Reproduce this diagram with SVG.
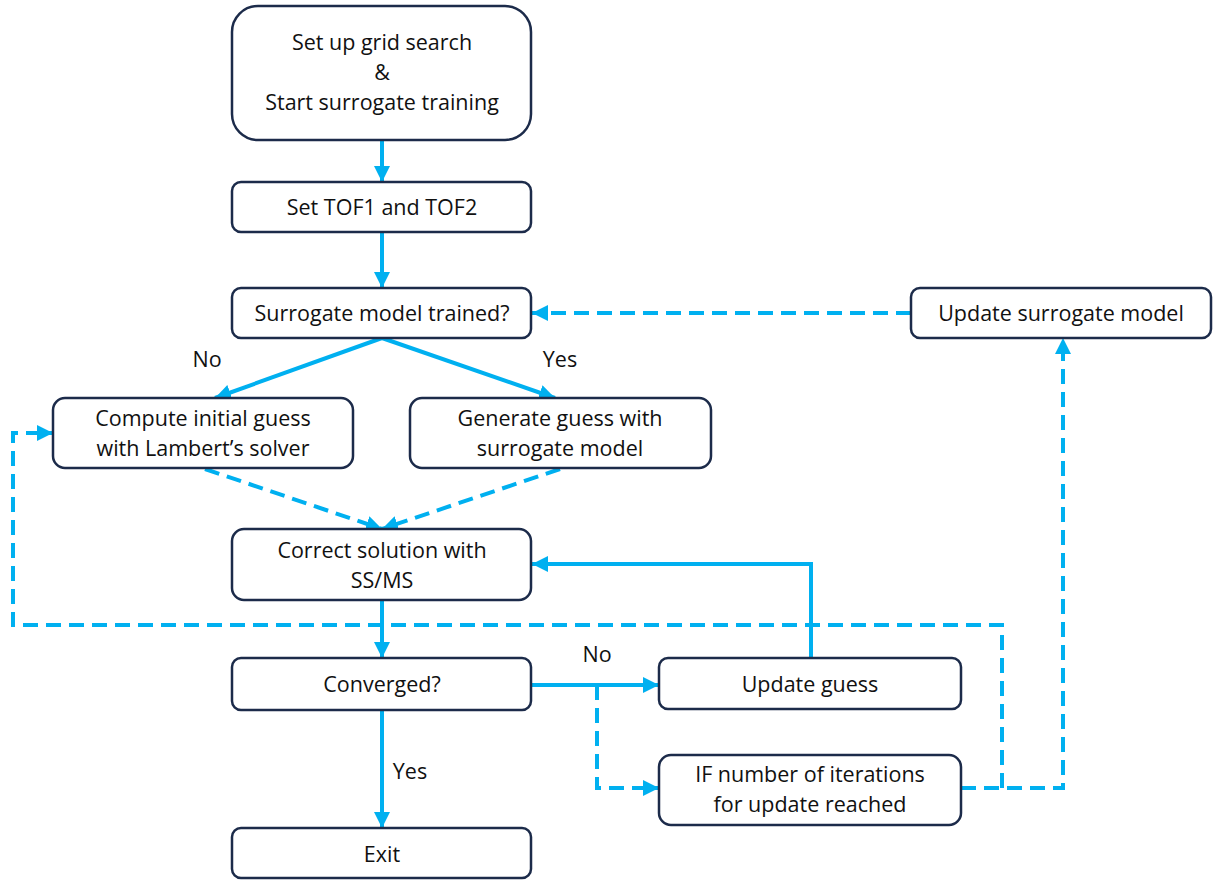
<svg xmlns="http://www.w3.org/2000/svg" width="1213" height="881" viewBox="0 0 1213 881">
  <style>
    .box { fill: #ffffff; stroke: #1c2b4a; stroke-width: 2.5; }
    .lbl { font-family: "Open Sans", "Noto Sans", sans-serif; font-size: 21.5px; fill: #111111; text-anchor: middle; }
    .flow { fill: none; stroke: #00b0f0; stroke-width: 4; }
    .dash { stroke-dasharray: 15 8; }
  </style>
  <defs>
    <marker id="arrow" viewBox="0 0 10 10" refX="10" refY="5" markerWidth="16" markerHeight="16" markerUnits="userSpaceOnUse" orient="auto">
      <path d="M0,0 L10,5 L0,10 Z" fill="#00b0f0"/>
    </marker>
  </defs>
  <rect width="1213" height="881" fill="#ffffff"/>

  <g id="connectors">
    <!-- main spine -->
    <path class="flow" marker-end="url(#arrow)" d="M382,140 V182"/>
    <path class="flow" marker-end="url(#arrow)" d="M382,232 V288"/>
    <path class="flow" marker-end="url(#arrow)" d="M382,338 L215,398"/>
    <path class="flow" marker-end="url(#arrow)" d="M382,338 L555,398"/>
    <path class="flow dash" marker-end="url(#arrow)" d="M205,469 L382,529"/>
    <path class="flow dash" marker-end="url(#arrow)" d="M560,469 L382,529"/>
    <path class="flow" marker-end="url(#arrow)" d="M382,600 V658"/>
    <path class="flow" marker-end="url(#arrow)" d="M382,710 V828"/>
    <!-- not converged -->
    <path class="flow" marker-end="url(#arrow)" d="M532,685 H659"/>
    <path class="flow" marker-end="url(#arrow)" d="M811,658 V564 H532"/>
    <path class="flow dash" marker-end="url(#arrow)" d="M597,685 V788 H659"/>
    <!-- iteration limit branches -->
    <path class="flow dash" marker-end="url(#arrow)" d="M961,788 H1063 V338"/>
    <path class="flow dash" marker-end="url(#arrow)" d="M1002,788 V625 H13 V433 H53"/>
    <path class="flow dash" marker-end="url(#arrow)" d="M911,313 H532"/>
    <!-- branch labels -->
    <text class="lbl" x="207" y="367">No</text>
    <text class="lbl" x="560" y="367">Yes</text>
    <text class="lbl" x="597" y="662">No</text>
    <text class="lbl" x="410" y="779">Yes</text>
  </g>

  <g id="setup">
    <rect class="box" x="232" y="6" width="299" height="134" rx="26"/>
    <text class="lbl" x="382" y="50">Set up grid search</text>
    <text class="lbl" x="382" y="80">&amp;</text>
    <text class="lbl" x="382" y="110">Start surrogate training</text>
  </g>
  <g id="set-tof">
    <rect class="box" x="232" y="182" width="299" height="50" rx="9"/>
    <text class="lbl" x="382" y="215">Set TOF1 and TOF2</text>
  </g>
  <g id="trained">
    <rect class="box" x="232" y="288" width="299" height="50" rx="9"/>
    <text class="lbl" x="382" y="321">Surrogate model trained?</text>
  </g>
  <g id="update-surrogate">
    <rect class="box" x="911" y="288" width="300" height="50" rx="9"/>
    <text class="lbl" x="1061" y="321">Update surrogate model</text>
  </g>
  <g id="lambert">
    <rect class="box" x="53" y="398" width="300" height="70" rx="12"/>
    <text class="lbl" x="203" y="426">Compute initial guess</text>
    <text class="lbl" x="203" y="456">with Lambert’s solver</text>
  </g>
  <g id="surrogate-guess">
    <rect class="box" x="410" y="398" width="301" height="70" rx="12"/>
    <text class="lbl" x="560" y="426">Generate guess with</text>
    <text class="lbl" x="560" y="456">surrogate model</text>
  </g>
  <g id="correct">
    <rect class="box" x="232" y="529" width="299" height="71" rx="12"/>
    <text class="lbl" x="382" y="558">Correct solution with</text>
    <text class="lbl" x="382" y="588">SS/MS</text>
  </g>
  <g id="converged">
    <rect class="box" x="232" y="658" width="299" height="52" rx="9"/>
    <text class="lbl" x="382" y="692">Converged?</text>
  </g>
  <g id="update-guess">
    <rect class="box" x="659" y="658" width="302" height="51" rx="9"/>
    <text class="lbl" x="810" y="692">Update guess</text>
  </g>
  <g id="iterations">
    <rect class="box" x="659" y="755" width="302" height="70" rx="12"/>
    <text class="lbl" x="810" y="782">IF number of iterations</text>
    <text class="lbl" x="810" y="812">for update reached</text>
  </g>
  <g id="exit">
    <rect class="box" x="232" y="828" width="299" height="50" rx="9"/>
    <text class="lbl" x="382" y="862">Exit</text>
  </g>
</svg>
